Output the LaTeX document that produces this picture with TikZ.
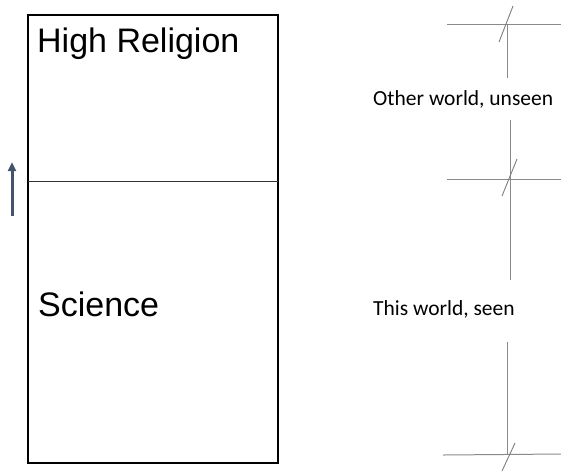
\documentclass[tikz,border=0pt]{standalone}
\usepackage{fontspec}
\setmainfont{Liberation Sans}
\newfontfamily\calib{Carlito}
\usetikzlibrary{arrows.meta}
\definecolor{arrowblue}{HTML}{44546A}
\definecolor{markgray}{HTML}{8A8A8A}
\tikzset{
  bigtext/.style={font=\fontsize{34}{40}\selectfont, anchor=base west, inner sep=0pt},
  smalltext/.style={font=\calib\fontsize{21.5}{26}\selectfont, anchor=base west, inner sep=0pt},
  markline/.style={draw=markgray, line width=1pt},
  slashline/.style={draw=markgray!90!black, line width=0.9pt},
}
\begin{document}
\begin{tikzpicture}[x=1pt,y=-1pt]
\useasboundingbox (0,0) rectangle (561,475);
% main box
\draw[line width=2.6pt] (28,15) rectangle (278,463);
\draw[line width=1pt, black!80] (28,181) -- (278,181);
\node[bigtext] (hr) at (37,52) {High Religion};
\node[bigtext] (sci) at (38,316) {Science};
% arrow
\coordinate (ab) at (12,216);
\coordinate (at) at (12,162);
\draw[arrowblue, line width=3pt, -{Triangle[length=9pt,width=8pt]}] (ab) -- (at);
% top mark
\draw[markline] (447,24) -- (561,24);
\draw[markline] (507,24) -- (507,78);
\draw[slashline] (499,42) -- (513,6);
\node[smalltext] (ow) at (373,105) {Other world, unseen};
% middle mark
\draw[markline] (510,120) -- (510,280);
\draw[markline] (447,179) -- (561,179);
\draw[slashline] (502,196) -- (517,159);
\node[smalltext] (tw) at (373,315) {This world, seen};
% bottom mark
\draw[markline] (507,342) -- (507,455);
\draw[markline] (443,455) -- (561,454);
\draw[slashline] (502,471) -- (515,443);
\end{tikzpicture}
\end{document}
